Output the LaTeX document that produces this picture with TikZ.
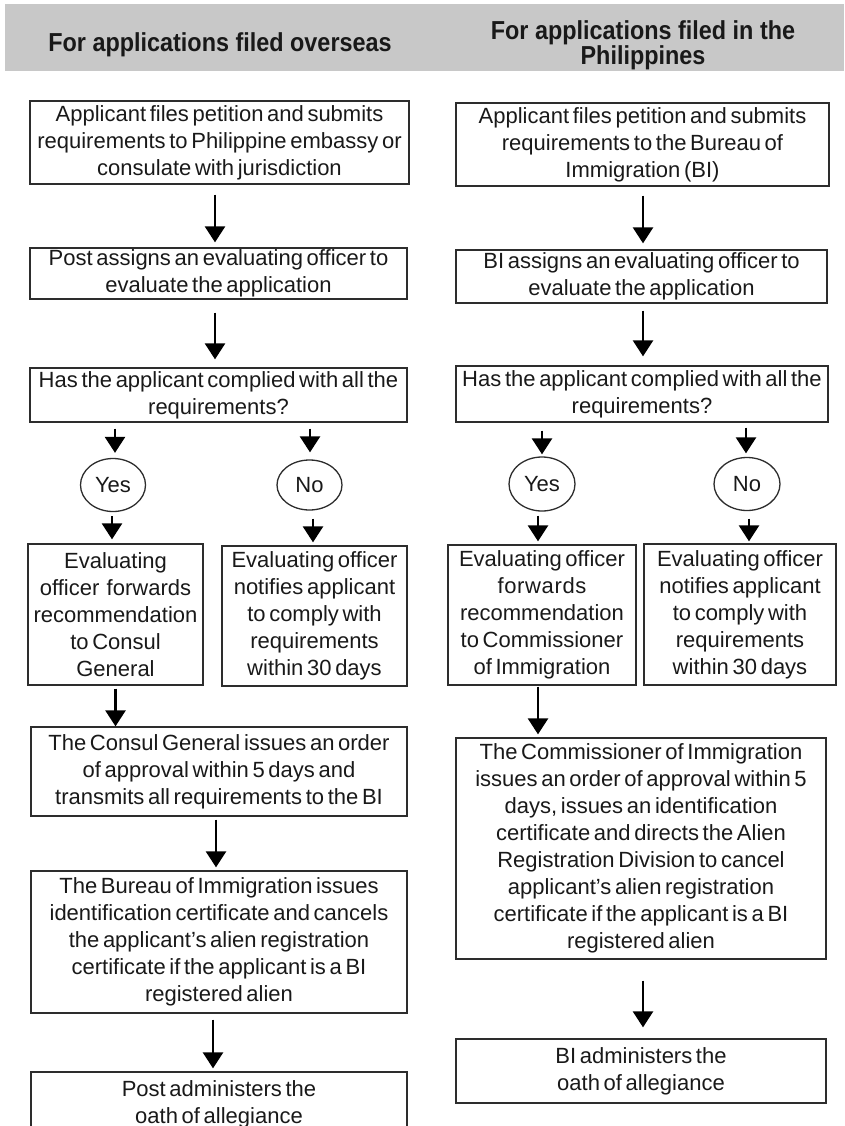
\documentclass[tikz,border=0pt]{standalone}
\usepackage{fontspec}
\setmainfont{Liberation Sans}[WordSpace=0.6]
\newfontfamily\hdrfont[FakeStretch=0.9]{Liberation Sans}
\usetikzlibrary{arrows.meta,calc,shapes.geometric}
\definecolor{band}{RGB}{200,200,200}
\definecolor{ink}{RGB}{25,25,25}
\definecolor{edge}{RGB}{45,45,45}
\begin{document}
\begin{tikzpicture}[x=1pt,y=-1pt,
  box/.style={draw=edge, line width=1.3pt, align=center, inner sep=0pt, text=ink,
    font=\fontsize{22}{27}\selectfont},
  oval/.style={ellipse, draw=edge, line width=1.3pt, inner sep=0pt, text=ink,
    font=\fontsize{22}{27}\selectfont},
  hdr/.style={align=center, inner sep=0pt, text=ink,
    font=\hdrfont\bfseries\fontsize{26}{25}\selectfont},
  arr/.style={line width=2.6pt, draw=black, -{Triangle[width=20pt,length=16pt]}}]
\useasboundingbox (0,0) rectangle (844,1126);
\clip (0,0) rectangle (844,1126);
% header band
\fill[band] (5,4) rectangle (844,71);
\node[hdr] (H1) at (220,45) {For applications filed overseas};
\node[hdr] (H2) at (643,45.5) {For applications filed in the\\Philippines};
% left column
\node[box, minimum width=379pt, minimum height=83pt] (L1) at (219.5,142.5)
  {Applicant files petition and submits\\requirements to Philippine embassy or\\consulate with jurisdiction};
\node[box, minimum width=377pt, minimum height=51pt] (L2) at (218.5,273.5)
  {Post assigns an evaluating officer to\\evaluate the application};
\node[box, minimum width=377pt, minimum height=54pt] (L3) at (218.5,395)
  {Has the applicant complied with all the\\requirements?};
\node[oval, minimum width=65pt, minimum height=53pt] (YL) at (113,485) {Yes};
\node[oval, minimum width=65pt, minimum height=50pt] (NL) at (309.5,485) {No};
\node[box, minimum width=175pt, minimum height=141pt] (L4) at (115.5,614.5)
  {Evaluating\\officer\ \ forwards\\recommendation\\to Consul\\General};
\node[box, minimum width=185pt, minimum height=140pt] (L5) at (314.5,616)
  {Evaluating officer\\notifies applicant\\to comply with\\requirements\\within 30 days};
\node[box, minimum width=376pt, minimum height=89pt] (L6) at (219,771.5)
  {The Consul General issues an order\\of approval within 5 days and\\transmits all requirements to the BI};
\node[box, minimum width=376pt, minimum height=142pt] (L7) at (219,942)
  {The Bureau of Immigration issues\\identification certificate and cancels\\the applicant’s alien registration\\certificate if the applicant is a BI\\registered alien};
\node[box, minimum width=376pt, minimum height=64pt] (L8) at (219,1104)
  {Post administers the\\oath of allegiance};
% right column
\node[box, minimum width=373pt, minimum height=83pt] (R1) at (642.5,144.5)
  {Applicant files petition and submits\\requirements to the Bureau of\\Immigration (BI)};
\node[box, minimum width=371pt, minimum height=53pt] (R2) at (641.5,276.5)
  {BI assigns an evaluating officer to\\evaluate the application};
\node[box, minimum width=372pt, minimum height=56pt] (R3) at (642,394)
  {Has the applicant complied with all the\\requirements?};
\node[oval, minimum width=66pt, minimum height=54pt] (YR) at (542,484) {Yes};
\node[oval, minimum width=66pt, minimum height=53pt] (NR) at (747,484) {No};
\node[box, minimum width=188pt, minimum height=140pt] (R4) at (542,615)
  {Evaluating officer\\{\addfontfeature{LetterSpace=3}forwards}\\recommendation\\to Commissioner\\of Immigration};
\node[box, minimum width=192pt, minimum height=141pt] (R5) at (740,614.5)
  {Evaluating officer\\notifies applicant\\to comply with\\requirements\\within 30 days};
\node[box, minimum width=370pt, minimum height=221pt] (R6) at (641,848.5)
  {The Commissioner of Immigration\\issues an order of approval within 5\\days, issues an identification\\certificate and directs the Alien\\Registration Division to cancel\\applicant’s alien registration\\certificate if the applicant is a BI\\registered alien};
\node[box, minimum width=370pt, minimum height=64pt] (R7) at (641,1071)
  {BI administers the\\oath of allegiance};
% left arrows
\draw[arr] ($(L1.south)+(-4.5,10)$) -- ($(L2.north)+(-3.5,-5)$);
\draw[arr] ($(L2.south)+(-3.5,13)$) -- ($(L3.north)+(-3.5,-8)$);
\draw[arr] ($(L3.south -| YL.north)+(2,6)$) -- ($(YL.north)+(2,-5)$);
\draw[arr] ($(L3.south -| NL.north)+(0.5,6)$) -- ($(NL.north)+(0.5,-7)$);
\draw[arr] ($(YL.south)+(-1,4)$) -- ($(YL.south |- L4.north)+(-1,-4)$);
\draw[arr] ($(NL.south)+(3.5,8)$) -- ($(NL.south |- L5.north)+(3.5,-3)$);
\draw[arr] ($(L4.south)+(0,3)$) -- (L4.south |- L6.north);
\draw[arr] ($(L6.south)+(-3,3)$) -- ($(L7.north)+(-3,-3)$);
\draw[arr] ($(L7.south)+(-6,6)$) -- ($(L8.north)+(-6,-3)$);
% right arrows
\draw[arr] ($(R1.south)+(0.5,9)$) -- ($(R2.north)+(1.5,-6)$);
\draw[arr] ($(R2.south)+(1.5,7)$) -- ($(R3.north)+(1,-9)$);
\draw[arr] ($(R3.south -| YR.north)+(0,8)$) -- ($(YR.north)+(0,-2)$);
\draw[arr] ($(R3.south -| NR.north)+(-1,5)$) -- ($(NR.north)+(-1,-3.5)$);
\draw[arr] ($(YR.south)+(-4,4)$) -- ($(YR.south |- R4.north)+(-4,-3)$);
\draw[arr] ($(NR.south)+(2,7.5)$) -- ($(NR.south |- R5.north)+(2,-2)$);
\draw[arr] ($(R4.south)+(-4,1)$) -- ($(R4.south |- R6.north)+(-4,-3)$);
\draw[arr] ($(R6.south)+(2,21)$) -- ($(R7.north)+(2,-11)$);
\end{tikzpicture}
\end{document}
